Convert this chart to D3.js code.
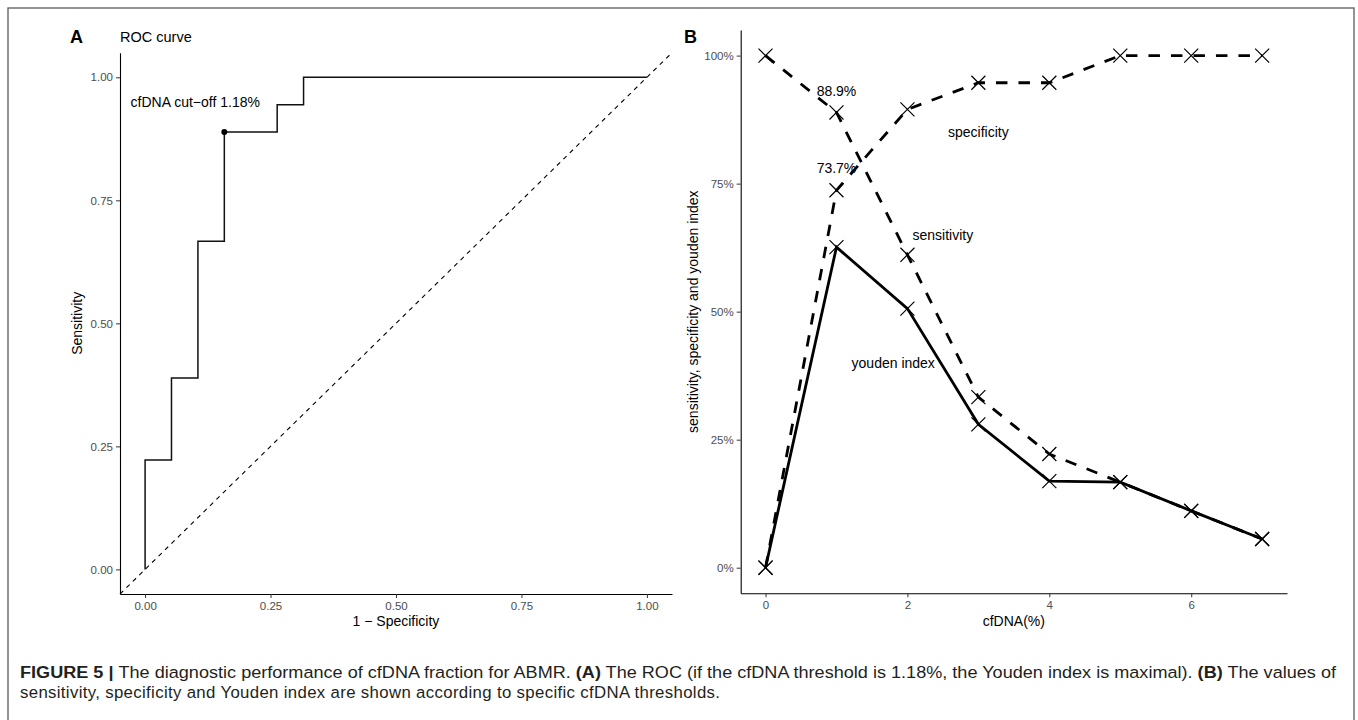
<!DOCTYPE html>
<html>
<head>
<meta charset="utf-8">
<script src="https://cdn.jsdelivr.net/npm/d3@7"></script>
<style>
  body { margin: 0; background: #fff; }
  text { font-family: "Liberation Sans", Arial, Helvetica, sans-serif; }
</style>
</head>
<body>
<svg id="fig" width="1358" height="720"></svg>
<script>
// ROC curve (panel A) - step points, 18 positives / 19 negatives
var rocFpr = [0, 0, 0.0526, 0.1053, 0.1579, 0.2632, 0.3158, 1];
var rocTpr = [0, 0.2222, 0.3889, 0.6667, 0.8889, 0.9444, 1, 1];
var cutFpr = 0.1579, cutTpr = 0.8889;
var cutLabel = "cfDNA cut\u2212off 1.18%";
var rocTicks = [0, 0.25, 0.5, 0.75, 1];

// panel B - values by cfDNA threshold
var thresholds = [0, 1, 2, 3, 4, 5, 6, 7];
var sensitivity = [1, 0.889, 0.611, 0.333, 0.222, 0.167, 0.111, 0.056];
var specificity = [0, 0.737, 0.895, 0.947, 0.947, 1, 1, 1];
var youden = [0, 0.626, 0.506, 0.280, 0.169, 0.167, 0.111, 0.056];
var pctTicks = [0, 0.25, 0.5, 0.75, 1];
var cfTicks = [0, 2, 4, 6];

var svg = d3.select("#fig");

// outer frame of the figure
svg.append("rect")
    .attr("x", 8).attr("y", 8)
    .attr("width", 1346).attr("height", 730)
    .attr("fill", "none").attr("stroke", "#5a5a5a").attr("stroke-width", 1.3);

function styleAxis(g) {
    g.select(".domain").attr("stroke", "#000").attr("stroke-width", 1.1);
    g.selectAll(".tick line").attr("stroke", "#333").attr("stroke-width", 1);
    g.selectAll(".tick text").attr("fill", "#4d4d4d")
        .style("font-family", "'Liberation Sans', Arial, sans-serif")
        .style("font-size", "11.5px");
}

// ---------- panel A ----------
var xA = d3.scaleLinear().domain([-0.05, 1.05]).range([120, 672]);
var yA = d3.scaleLinear().domain([-0.05, 1.05]).range([594, 52.7]);

svg.append("text").attr("x", 70).attr("y", 43)
    .style("font-size", "18px").style("font-weight", "bold").text("A");
svg.append("text").attr("x", 120).attr("y", 42)
    .style("font-size", "14.5px").text("ROC curve");

// diagonal reference
svg.append("line")
    .attr("x1", xA(-0.05)).attr("y1", yA(-0.05))
    .attr("x2", xA(1.05)).attr("y2", yA(1.05))
    .attr("stroke", "#000").attr("stroke-width", 1.1)
    .attr("stroke-dasharray", "4.5,4.5");

var rocPts = rocFpr.map(function(d, i) { return [d, rocTpr[i]]; });
svg.append("path")
    .attr("d", d3.line().curve(d3.curveStepAfter)
        .x(function(d) { return xA(d[0]); })
        .y(function(d) { return yA(d[1]); })(rocPts))
    .attr("fill", "none").attr("stroke", "#111").attr("stroke-width", 1.5);

svg.append("circle").attr("cx", xA(cutFpr)).attr("cy", yA(cutTpr))
    .attr("r", 3).attr("fill", "#000");
svg.append("text").attr("x", xA(0.1)).attr("y", yA(0.95))
    .attr("text-anchor", "middle").attr("dy", "0.35em")
    .style("font-size", "14px").text(cutLabel);

svg.append("g").attr("transform", "translate(0," + 594 + ")")
    .call(d3.axisBottom(xA).tickValues(rocTicks).tickFormat(d3.format(".2f"))
        .tickSize(4).tickSizeOuter(0).tickPadding(4))
    .call(styleAxis);
svg.append("g").attr("transform", "translate(" + 120 + ",0)")
    .call(d3.axisLeft(yA).tickValues(rocTicks).tickFormat(d3.format(".2f"))
        .tickSize(4).tickSizeOuter(0).tickPadding(3))
    .call(styleAxis);

svg.append("text").attr("x", (xA(0) + xA(1)) / 2).attr("y", 626)
    .attr("text-anchor", "middle").style("font-size", "14px").text("1 \u2212 Specificity");
svg.append("text")
    .attr("transform", "translate(82," + (yA(0.5)) + ") rotate(-90)")
    .attr("text-anchor", "middle").style("font-size", "14px").text("Sensitivity");

// ---------- panel B ----------
var xB = d3.scaleLinear().domain([-0.35, 7.35]).range([740.7, 1287]);
var yB = d3.scaleLinear().domain([-0.05, 1.05]).range([593.3, 30]);

svg.append("text").attr("x", 684).attr("y", 43)
    .style("font-size", "18px").style("font-weight", "bold").text("B");

var series = [
    {name: "specificity", values: specificity, dash: "11.5,11"},
    {name: "sensitivity", values: sensitivity, dash: "11.5,11"},
    {name: "youden", values: youden, dash: null}
];

var lineB = d3.line()
    .x(function(d, i) { return xB(thresholds[i]); })
    .y(function(d) { return yB(d); });

series.forEach(function(s) {
    svg.append("path")
        .attr("d", lineB(s.values))
        .attr("fill", "none").attr("stroke", "#000").attr("stroke-width", 2.8)
        .attr("stroke-dasharray", s.dash);
});

var cross = d3.symbol().type(d3.symbolX).size(130);
series.forEach(function(s) {
    svg.selectAll(null).data(s.values).enter().append("path")
        .attr("d", cross)
        .attr("transform", function(d, i) {
            return "translate(" + xB(thresholds[i]) + "," + yB(d) + ")";
        })
        .attr("fill", "none").attr("stroke", "#000").attr("stroke-width", 1.2);
});

// annotations
var notes = [
    {x: 1, y: sensitivity[1] + 0.041, t: d3.format(".1%")(sensitivity[1])},
    {x: 1, y: specificity[1] + 0.043, t: d3.format(".1%")(specificity[1])},
    {x: 3, y: 0.85, t: "specificity"},
    {x: 2.5, y: 0.65, t: "sensitivity"},
    {x: 1.8, y: 0.40, t: "youden index"}
];
svg.selectAll(null).data(notes).enter().append("text")
    .attr("x", function(d) { return xB(d.x); })
    .attr("y", function(d) { return yB(d.y); })
    .attr("dy", "0.35em").attr("text-anchor", "middle")
    .style("font-size", "14px")
    .text(function(d) { return d.t; });

svg.append("g").attr("transform", "translate(0," + 593.3 + ")")
    .call(d3.axisBottom(xB).tickValues(cfTicks).tickFormat(d3.format("d"))
        .tickSize(4).tickSizeOuter(0).tickPadding(4))
    .call(styleAxis);
svg.append("g").attr("transform", "translate(" + 740.7 + ",0)")
    .call(d3.axisLeft(yB).tickValues(pctTicks).tickFormat(d3.format(".0%"))
        .tickSize(4).tickSizeOuter(0).tickPadding(3))
    .call(styleAxis);

svg.append("text").attr("x", xB(3.5)).attr("y", 626)
    .attr("text-anchor", "middle").style("font-size", "14px").text("cfDNA(%)");
svg.append("text")
    .attr("transform", "translate(698," + yB(0.5) + ") rotate(-90)")
    .attr("text-anchor", "middle").style("font-size", "14px")
    .text("sensitivity, specificity and youden index");

// ---------- caption ----------
var cap1 = svg.append("text").attr("x", 20).attr("y", 678)
    .attr("fill", "#231f20").style("font-size", "16.8px")
    .attr("textLength", 1316).attr("lengthAdjust", "spacingAndGlyphs");
cap1.append("tspan").style("font-weight", "bold").text("FIGURE 5 | ");
cap1.append("tspan").text("The diagnostic performance of cfDNA fraction for ABMR. ");
cap1.append("tspan").style("font-weight", "bold").text("(A)");
cap1.append("tspan").text(" The ROC (if the cfDNA threshold is 1.18%, the Youden index is maximal). ");
cap1.append("tspan").style("font-weight", "bold").text("(B)");
cap1.append("tspan").text(" The values of");

svg.append("text").attr("x", 20).attr("y", 698)
    .attr("fill", "#231f20").style("font-size", "16.8px")
    .attr("textLength", 700).attr("lengthAdjust", "spacing")
    .text("sensitivity, specificity and Youden index are shown according to specific cfDNA thresholds.");
</script>
</body>
</html>
